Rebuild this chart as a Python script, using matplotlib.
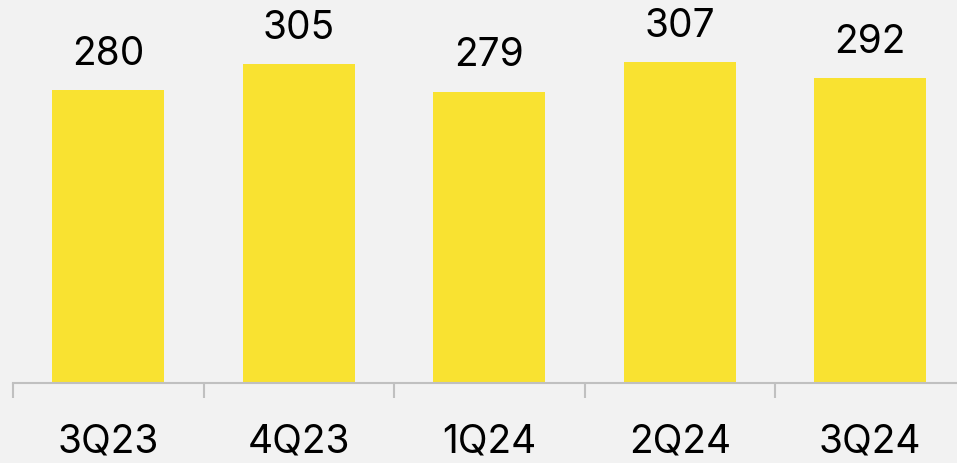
import matplotlib.pyplot as plt
import numpy as np

# quarterly values
quarters = ['3Q23', '4Q23', '1Q24', '2Q24', '3Q24']
values = [280, 305, 279, 307, 292]

bg = '#f2f2f2'
bar_color = '#f9e231'
plt.rcParams['font.family'] = ['Inter', 'DejaVu Sans']

fig = plt.figure(figsize=(9.57, 4.64), dpi=100, facecolor=bg)
ax = fig.add_axes([13 / 957, 80.5 / 464, 952.5 / 957, 354.6 / 464])
ax.set_facecolor(bg)

x = np.arange(len(quarters))
bars = ax.bar(x, values, width=0.59, color=bar_color)

ax.set_xlim(-0.5, len(quarters) - 0.5)
ax.set_ylim(0, 340)

for s in ['top', 'right', 'left']:
    ax.spines[s].set_visible(False)
ax.spines['bottom'].set_color('#c0c0c0')
ax.spines['bottom'].set_linewidth(1.5)
ax.set_yticks([])

ax.set_xticks(x)
ax.set_xticklabels(quarters, fontsize=28)
ax.tick_params(axis='x', which='major', length=0, pad=29)
ax.set_xticks(np.arange(-0.5, len(quarters), 1), minor=True)
ax.tick_params(axis='x', which='minor', length=10.5, width=1.5, color='#c0c0c0')

for b, v in zip(bars, values):
    ax.annotate(str(v), (b.get_x() + b.get_width() / 2, v), xytext=(0, 13),
                textcoords='offset points', ha='center', va='bottom', fontsize=28)

fig.savefig('out.png', facecolor=bg)
